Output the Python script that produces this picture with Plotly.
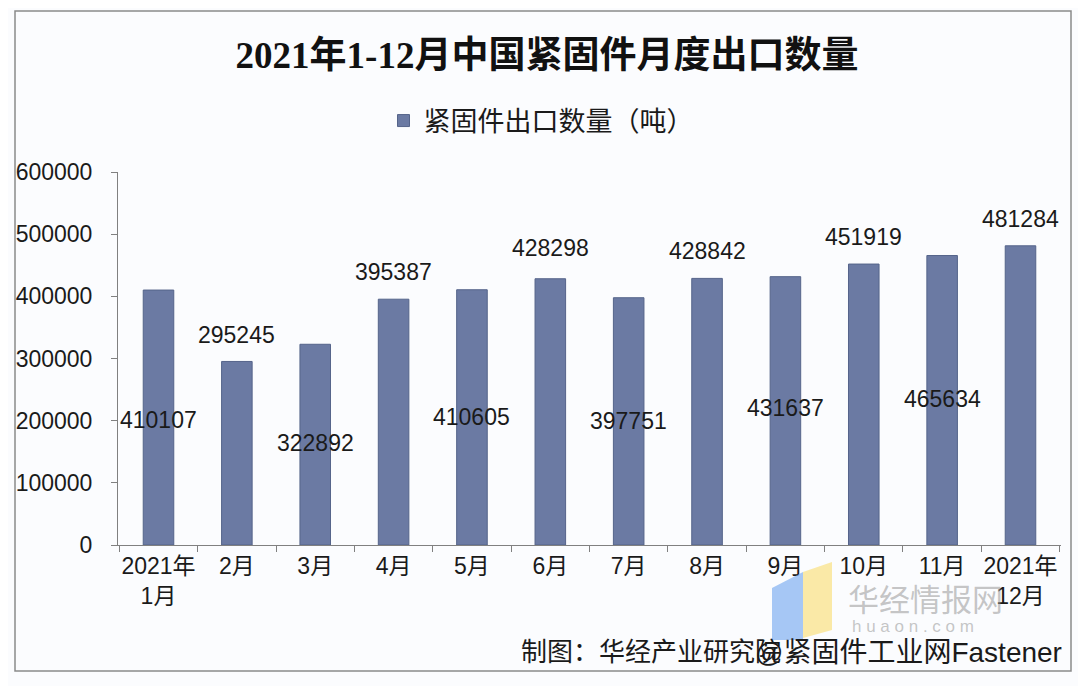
import plotly.graph_objects as go

# ---- data ----
categories = ["2021年<br>1月", "2月", "3月", "4月", "5月", "6月", "7月", "8月", "9月", "10月", "11月", "2021年<br>12月"]
export_tons = [410107, 295245, 322892, 395387, 410605, 428298, 397751, 428842, 431637, 451919, 465634, 481284]
series_name = "紧固件出口数量（吨）"
title_text = "2021年1-12月中国紧固件月度出口数量"
y_ticks = [0, 100000, 200000, 300000, 400000, 500000, 600000]
y_tick_labels = ["0", "100000", "200000", "300000", "400000", "500000", "600000"]

# ---- layout helpers (label placement as in the original, in axis units) ----
label_y_pos = [201000, 338000, 164000, 439000, 206000, 478000, 199000, 473000, 220000, 495000, 235000, 524000]

BAR_COLOR = "#6b7aa3"
FONT = "Liberation Sans, Noto Sans CJK SC, sans-serif"

# page body has an 8px margin, so figure coords = screen coords - 8
OFF = 8
W, H = 1086 - OFF, 686 - OFF
PL, PR, PT, PB = 118, 1061, 172, 545  # plot area in screen px

def px_x(px):
    return (px - PL) / (PR - PL)

def px_y(py):
    return (PB - py) / (PB - PT)

fig = go.Figure()
fig.add_trace(go.Bar(
    x=categories, y=export_tons, name=series_name,
    marker=dict(color=BAR_COLOR, line=dict(color="#55648a", width=1)),
    width=0.39, showlegend=True,
))

annotations = []
for c, v, ly in zip(categories, export_tons, label_y_pos):
    annotations.append(dict(x=c, y=ly, xref="x", yref="y", text=str(v), showarrow=False,
                            font=dict(family=FONT, size=23, color="#1a1a1a")))

# source / watermark texts
annotations.append(dict(xref="paper", yref="paper", x=px_x(519), y=px_y(652),
                        xanchor="left", yanchor="middle", showarrow=False,
                        text="制图：华经产业研究院", font=dict(family=FONT, size=26, color="#1a1a1a")))
annotations.append(dict(xref="paper", yref="paper", x=px_x(1064), y=px_y(652),
                        xanchor="right", yanchor="middle", showarrow=False,
                        text="@紧固件工业网Fastener", font=dict(family=FONT, size=28, color="#1a1a1a")))
annotations.append(dict(xref="paper", yref="paper", x=px_x(846), y=px_y(597),
                        xanchor="left", yanchor="middle", showarrow=False,
                        text="华经情报网", font=dict(family="Noto Sans CJK SC", size=31, color="rgba(150,150,150,0.55)")))
annotations.append(dict(xref="paper", yref="paper", x=px_x(850), y=px_y(626),
                        xanchor="left", yanchor="middle", showarrow=False,
                        text="h u a o n . c o m", font=dict(family=FONT, size=17, color="rgba(160,160,160,0.6)")))

shapes = [
    # outer frame
    dict(type="rect", xref="paper", yref="paper", x0=px_x(15), x1=px_x(1071), y0=px_y(671), y1=px_y(11),
         line=dict(color="#8a8a8a", width=1.5), fillcolor="rgba(0,0,0,0)", layer="below"),
    # watermark logo
    dict(type="path", xref="paper", yref="paper",
         path=f"M {px_x(772)} {px_y(588)} L {px_x(803)} {px_y(572)} L {px_x(803)} {px_y(640)} L {px_x(772)} {px_y(640)} Z",
         fillcolor="rgba(120,170,240,0.65)", line=dict(width=0), layer="above"),
    dict(type="path", xref="paper", yref="paper",
         path=f"M {px_x(803)} {px_y(572)} L {px_x(832)} {px_y(562)} L {px_x(832)} {px_y(630)} L {px_x(803)} {px_y(638)} Z",
         fillcolor="rgba(250,225,130,0.7)", line=dict(width=0), layer="above"),
]

fig.update_layout(
    width=W, height=H,
    margin=dict(l=PL - OFF, r=W - (PR - OFF), t=PT - OFF, b=H - (PB - OFF), autoexpand=False),
    paper_bgcolor="#fbfcfe", plot_bgcolor="#fbfcfe",
    title=dict(text=title_text, x=0.5, xanchor="center", y=1 - (55 - OFF) / H, yanchor="middle",
               font=dict(family="Liberation Serif, Noto Sans CJK SC, serif", size=37, color="#111111", weight="bold")),
    legend=dict(orientation="h", x=px_x(541), xanchor="center", y=px_y(121), yanchor="middle",
                font=dict(family="Noto Sans CJK SC", size=27, color="#1a1a1a"),
                bgcolor="rgba(0,0,0,0)", itemwidth=30),
    xaxis=dict(showgrid=False, showline=True, linecolor="#808080", linewidth=1,
               ticks="outside", ticklen=6, tickcolor="#808080", tickson="boundaries",
               tickfont=dict(family=FONT, size=23, color="#1a1a1a"), tickangle=0),
    yaxis=dict(range=[0, 600000], tickvals=y_ticks, ticktext=y_tick_labels, showgrid=False, showline=True,
               linecolor="#808080", linewidth=1, ticks="outside", ticklen=6, tickcolor="#808080",
               tickfont=dict(family=FONT, size=23, color="#1a1a1a"), ticklabelstandoff=14,
               zeroline=False),
    annotations=annotations,
    shapes=shapes,
)

fig.write_html("out.html")
